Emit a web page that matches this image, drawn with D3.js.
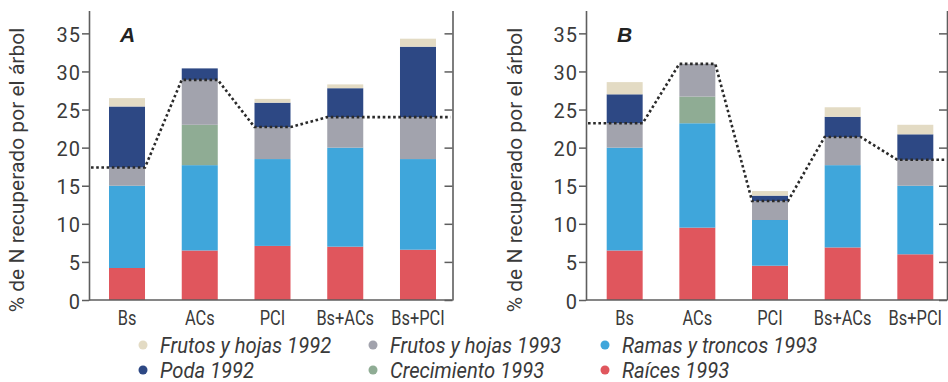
<!DOCTYPE html>
<html>
<head>
<meta charset="utf-8">
<script src="https://cdn.jsdelivr.net/npm/d3@7"></script>
<style>
  html, body { margin: 0; padding: 0; background: #fff; }
  svg { display: block; }
  .tick-lbl { font-family: Roboto, "Noto Sans", sans-serif; font-size: 20px; fill: #3a3a3a; letter-spacing: 1px; }
  .cat-lbl { font-family: Roboto, "Noto Sans", sans-serif; font-size: 20px; fill: #3a3a3a; }
  .ytitle { font-family: Roboto, "Noto Sans", sans-serif; font-size: 21px; fill: #3a3a3a; }
  .panel-lbl { font-family: "Liberation Sans", Arial, sans-serif; font-size: 21px; font-weight: bold; font-style: italic; fill: #222; }
  .leg-lbl { font-family: Roboto, "Noto Sans", sans-serif; font-size: 21.5px; font-style: italic; fill: #3a3a3a; }
</style>
</head>
<body>
<svg id="chart" width="948" height="382"></svg>
<script>
// Categories (treatments)
const categories = ["Bs", "ACs", "PCI", "Bs+ACs", "Bs+PCI"];

// Series names, stacked bottom to top
const seriesNames = ["Raíces 1993", "Ramas y troncos 1993", "Crecimiento 1993",
                     "Frutos y hojas 1993", "Poda 1992", "Frutos y hojas 1992"];

// Panel A: % of N recovered by the tree
const raicesA    = [4.2, 6.5, 7.1, 7.0, 6.6];
const ramasA     = [10.8, 11.2, 11.4, 13.0, 11.9];
const crecA      = [0, 5.3, 0, 0, 0];
const frutos93A  = [2.4, 5.9, 4.2, 4.0, 5.5];
const poda92A    = [8.0, 1.5, 3.2, 3.8, 9.25];
const frutos92A  = [1.1, 0, 0.5, 0.5, 1.05];

// Panel B
const raicesB    = [6.5, 9.5, 4.5, 6.9, 6.0];
const ramasB     = [13.5, 13.7, 6.0, 10.8, 9.0];
const crecB      = [0, 3.5, 0, 0, 0];
const frutos93B  = [3.2, 4.3, 2.5, 3.7, 3.4];
const poda92B    = [3.8, 0, 0.7, 2.65, 3.35];
const frutos92B  = [1.6, 0, 0.6, 1.25, 1.25];

// Y axis ticks
const yTicks = [0, 5, 10, 15, 20, 25, 30, 35];

// Legend layout: rows of series names
const legendRows = [
  ["Frutos y hojas 1992", "Frutos y hojas 1993", "Ramas y troncos 1993"],
  ["Poda 1992", "Crecimiento 1993", "Raíces 1993"]
];

const colors = {
  "Raíces 1993": "#e0565d",
  "Ramas y troncos 1993": "#3fa6db",
  "Crecimiento 1993": "#8fac94",
  "Frutos y hojas 1993": "#a2a3ad",
  "Poda 1992": "#2d4884",
  "Frutos y hojas 1992": "#e3dbc4"
};

const panels = [
  { label: "A", values: [raicesA, ramasA, crecA, frutos93A, poda92A, frutos92A],
    axisL: 89, axisR: 452.5, barL: 109, barR: 436, titleX: 17 },
  { label: "B", values: [raicesB, ramasB, crecB, frutos93B, poda92B, frutos92B],
    axisL: 586, axisR: 947, barL: 606.7, barR: 933.3, titleX: 515 }
];

const svg = d3.select("#chart");
const y = d3.scaleLinear().domain([0, 38]).range([300, 10.5]);
const axisColor = "#5e5e5e";

panels.forEach(p => {
  const g = svg.append("g");
  const x = d3.scaleBand().domain(categories).range([p.barL, p.barR])
    .paddingInner(0.505).paddingOuter(0);

  // stacked data
  const rows = categories.map((c, i) => {
    const r = { cat: c };
    seriesNames.forEach((s, k) => r[s] = p.values[k][i]);
    return r;
  });
  const stacked = d3.stack().keys(seriesNames)(rows);

  g.selectAll("g.layer").data(stacked).join("g")
    .attr("class", "layer")
    .attr("fill", d => colors[d.key])
    .selectAll("rect").data(d => d).join("rect")
      .attr("x", d => x(d.data.cat))
      .attr("width", x.bandwidth())
      .attr("y", d => y(d[1]))
      .attr("height", d => Math.max(0, y(d[0]) - y(d[1])));

  // left axis
  const yAxisL = d3.axisLeft(y).tickValues(yTicks).tickSize(7).tickSizeOuter(0).tickPadding(1);
  const gl = g.append("g").attr("transform", `translate(${p.axisL},0)`).call(yAxisL);
  gl.selectAll("text").attr("class", "tick-lbl").attr("fill", null).attr("dy", "0.4em");
  gl.selectAll("line").attr("stroke", axisColor).attr("stroke-width", 1.5);
  gl.select(".domain").attr("stroke", axisColor).attr("stroke-width", 1.6);

  // right axis, inward ticks without labels
  const yAxisR = d3.axisRight(y).tickValues(yTicks).tickSize(-8).tickSizeOuter(0).tickFormat("");
  const gr = g.append("g").attr("transform", `translate(${p.axisR},0)`).call(yAxisR);
  gr.selectAll("line").attr("stroke", axisColor).attr("stroke-width", 1.5);
  gr.select(".domain").attr("stroke", axisColor).attr("stroke-width", 1.6);

  // baseline
  g.append("line")
    .attr("x1", p.axisL).attr("x2", p.axisR)
    .attr("y1", y(0)).attr("y2", y(0))
    .attr("stroke", axisColor).attr("stroke-width", 1.6);

  // category labels (condensed)
  g.selectAll("text.cat-lbl").data(categories).join("text")
    .attr("class", "cat-lbl")
    .attr("transform", d => `translate(${x(d) + x.bandwidth() / 2},325) scale(0.82,1)`)
    .attr("text-anchor", "middle")
    .text(d => d);

  // dotted line along the 1993 totals
  const tops = categories.map((c, i) => p.values[0][i] + p.values[1][i] + p.values[2][i] + p.values[3][i]);
  const pts = [[p.axisL + 2, tops[0]]];
  categories.forEach((c, i) => {
    pts.push([x(c), tops[i]]);
    pts.push([x(c) + x.bandwidth(), tops[i]]);
  });
  pts.push([p.axisR - 2, tops[tops.length - 1]]);
  g.append("path")
    .attr("d", d3.line().x(d => d[0]).y(d => y(d[1]))(pts))
    .attr("fill", "none")
    .attr("stroke", "#2a2a2a")
    .attr("stroke-width", 2.6)
    .attr("stroke-dasharray", "2.6,2.6");

  // y title
  g.append("text")
    .attr("class", "ytitle")
    .attr("transform", `translate(${p.titleX + 7},170) rotate(-90)`)
    .attr("text-anchor", "middle")
    .text("% de N recuperado por el árbol");

  // panel letter
  g.append("text")
    .attr("class", "panel-lbl")
    .attr("x", p.axisL + 31)
    .attr("y", 42)
    .text(p.label);
});

// legend
const legX = [143, 373, 605];
const legY = [345, 370];
legendRows.forEach((row, r) => {
  row.forEach((name, c) => {
    const lg = svg.append("g").attr("transform", `translate(${legX[c]},${legY[r]})`);
    lg.append("circle").attr("r", 4.5).attr("fill", colors[name]);
    lg.append("text").attr("class", "leg-lbl")
      .attr("transform", "translate(17,7.5) scale(0.94,1)")
      .text(name);
  });
});
</script>
</body>
</html>
